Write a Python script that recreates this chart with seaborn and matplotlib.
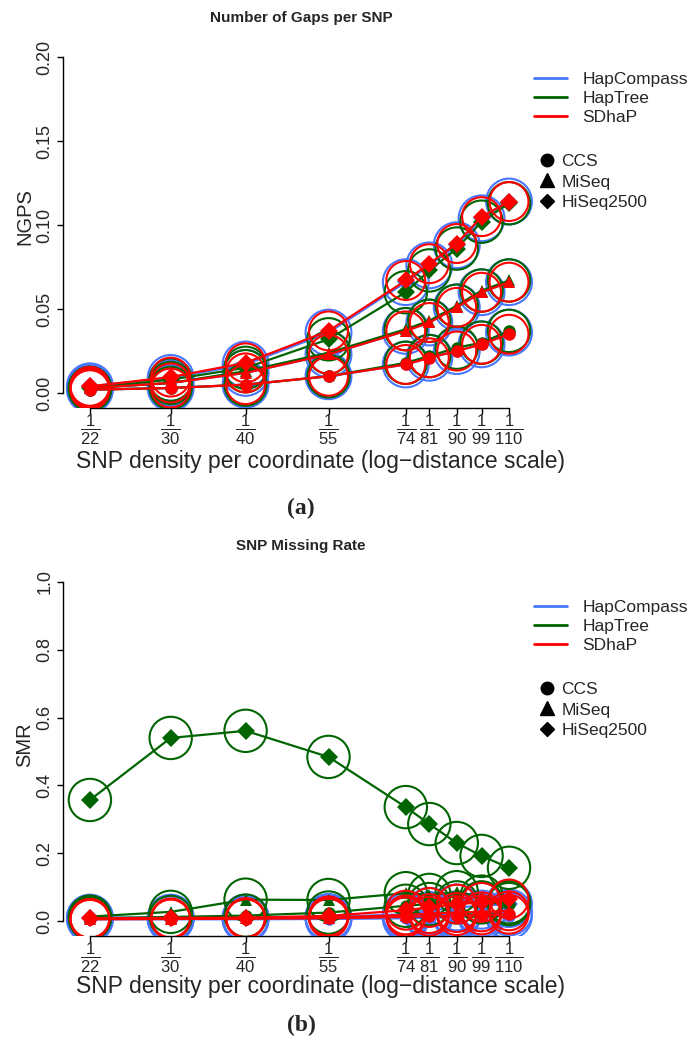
import numpy as np
import pandas as pd
import matplotlib
matplotlib.use("Agg")
import matplotlib.pyplot as plt
import seaborn as sns
from matplotlib.lines import Line2D

# =====================
# DATA
# =====================
density = [22, 30, 40, 55, 74, 81, 90, 99, 110]
tools = ["HapCompass", "HapTree", "SDhaP"]
platforms = ["CCS", "MiSeq", "HiSeq2500"]

# Number of gaps per SNP
ngps_hapcompass_ccs = [0.002, 0.003, 0.005, 0.010, 0.017, 0.021, 0.025, 0.029, 0.036]
ngps_hapcompass_miseq = [0.003, 0.006, 0.012, 0.023, 0.037, 0.042, 0.051, 0.060, 0.066]
ngps_hapcompass_hiseq = [0.004, 0.009, 0.017, 0.036, 0.066, 0.076, 0.088, 0.104, 0.114]
ngps_haptree_ccs = [0.002, 0.003, 0.005, 0.010, 0.018, 0.022, 0.027, 0.030, 0.037]
ngps_haptree_miseq = [0.003, 0.006, 0.013, 0.024, 0.038, 0.043, 0.052, 0.061, 0.067]
ngps_haptree_hiseq = [0.003, 0.008, 0.015, 0.032, 0.060, 0.073, 0.086, 0.102, 0.113]
ngps_sdhap_ccs = [0.002, 0.003, 0.005, 0.010, 0.017, 0.021, 0.025, 0.029, 0.035]
ngps_sdhap_miseq = [0.003, 0.006, 0.012, 0.023, 0.037, 0.042, 0.051, 0.060, 0.066]
ngps_sdhap_hiseq = [0.004, 0.0095, 0.018, 0.037, 0.067, 0.077, 0.089, 0.105, 0.114]

# SNP missing rate
smr_hapcompass_ccs = [0.005, 0.005, 0.005, 0.006, 0.008, 0.010, 0.012, 0.013, 0.015]
smr_hapcompass_miseq = [0.008, 0.008, 0.008, 0.010, 0.015, 0.018, 0.020, 0.022, 0.025]
smr_hapcompass_hiseq = [0.010, 0.010, 0.010, 0.012, 0.020, 0.030, 0.040, 0.045, 0.050]
smr_haptree_ccs = [0.008, 0.012, 0.016, 0.025, 0.045, 0.050, 0.055, 0.055, 0.050]
smr_haptree_miseq = [0.013, 0.027, 0.063, 0.062, 0.082, 0.077, 0.085, 0.072, 0.055]
smr_haptree_hiseq = [0.357, 0.540, 0.561, 0.484, 0.336, 0.286, 0.230, 0.192, 0.157]
smr_sdhap_ccs = [0.005, 0.006, 0.007, 0.008, 0.012, 0.014, 0.016, 0.018, 0.020]
smr_sdhap_miseq = [0.006, 0.007, 0.008, 0.010, 0.018, 0.022, 0.025, 0.027, 0.030]
smr_sdhap_hiseq = [0.008, 0.009, 0.010, 0.015, 0.032, 0.040, 0.050, 0.055, 0.065]

ngps = {
    ("HapCompass", "CCS"): ngps_hapcompass_ccs, ("HapCompass", "MiSeq"): ngps_hapcompass_miseq,
    ("HapCompass", "HiSeq2500"): ngps_hapcompass_hiseq,
    ("HapTree", "CCS"): ngps_haptree_ccs, ("HapTree", "MiSeq"): ngps_haptree_miseq,
    ("HapTree", "HiSeq2500"): ngps_haptree_hiseq,
    ("SDhaP", "CCS"): ngps_sdhap_ccs, ("SDhaP", "MiSeq"): ngps_sdhap_miseq,
    ("SDhaP", "HiSeq2500"): ngps_sdhap_hiseq,
}
smr = {
    ("HapCompass", "CCS"): smr_hapcompass_ccs, ("HapCompass", "MiSeq"): smr_hapcompass_miseq,
    ("HapCompass", "HiSeq2500"): smr_hapcompass_hiseq,
    ("HapTree", "CCS"): smr_haptree_ccs, ("HapTree", "MiSeq"): smr_haptree_miseq,
    ("HapTree", "HiSeq2500"): smr_haptree_hiseq,
    ("SDhaP", "CCS"): smr_sdhap_ccs, ("SDhaP", "MiSeq"): smr_sdhap_miseq,
    ("SDhaP", "HiSeq2500"): smr_sdhap_hiseq,
}

rows = []
for (tool, plat), vals in ngps.items():
    for d, v, w in zip(density, vals, smr[(tool, plat)]):
        rows.append({"tool": tool, "platform": plat, "density": d, "NGPS": v, "SMR": w})
df = pd.DataFrame(rows)

# =====================
# STYLE
# =====================
sns.set_style("white")
plt.rcParams["font.family"] = ["Liberation Sans", "DejaVu Sans"]
plt.rcParams["mathtext.fontset"] = "custom"
plt.rcParams["mathtext.rm"] = "Liberation Sans"
plt.rcParams["mathtext.it"] = "Liberation Sans"

colors = {"HapCompass": "#4876FF", "HapTree": "#006400", "SDhaP": "#FF0000"}
markers = {"CCS": "o", "MiSeq": "^", "HiSeq2500": "D"}
ring_size = {"HapCompass": 33, "HapTree": 30.5, "SDhaP": 28}  # diameter in points

W, H = 689, 1052
fig = plt.figure(figsize=(W / 100, H / 100), dpi=100)


def px_axes(left, top, right, bottom):
    return fig.add_axes([left / W, 1 - bottom / H, (right - left) / W, (bottom - top) / H])


def draw_panel(ax, col, ylim, yticks, yfmt, ylabel, ylab_y, leg_top):
    for z, tool in enumerate(tools):
        sub = df[df["tool"] == tool]
        sns.lineplot(data=sub, x="density", y=col, style="platform", markers=markers,
                     dashes=False, color=colors[tool], linewidth=1.6, markersize=9,
                     markeredgewidth=0, errorbar=None, legend=False, ax=ax, zorder=3 + z)
        ax.scatter(sub["density"], sub[col], s=ring_size[tool] ** 2, facecolors="none",
                   edgecolors=colors[tool], linewidths=1.5, zorder=3 + z)
    ax.set_xscale("log")
    ax.set_xlim(19.84, 123.9)
    ax.set_ylim(*ylim)
    ax.set_xticks(density)
    # "1 over d" fraction labels: numerator line, then the denominator with a bar over it
    ax.set_xticklabels(["1\n" + r"$\overline{\mathregular{%d}}$" % d for d in density],
                       fontsize=12, linespacing=0.88)
    ax.minorticks_off()
    ax.set_yticks(yticks)
    ax.set_yticklabels([yfmt % t for t in yticks], fontsize=13, rotation=90, va="center")
    ax.set_xlabel("")
    ax.set_ylabel("")
    for s in ["top", "right"]:
        ax.spines[s].set_visible(False)
    ax.spines["left"].set_bounds(yticks[0], yticks[-1])
    ax.spines["bottom"].set_bounds(density[0], density[-1])
    for s in ["left", "bottom"]:
        ax.spines[s].set_linewidth(1.0)
        ax.spines[s].set_color("black")
    ax.tick_params(axis="both", which="major", direction="out", length=4, width=1.0,
                   color="black", bottom=True, left=True)
    ax.tick_params(axis="y", pad=3)
    ax.tick_params(axis="x", pad=0.5)
    ax.set_facecolor("white")
    fig.text(25 / W, 1 - ylab_y / H, ylabel, rotation=90, fontsize=14.5, ha="center", va="center")

    tool_handles = [Line2D([], [], color=colors[t], linewidth=2) for t in tools]
    leg1 = ax.legend(tool_handles, tools, loc="upper left", frameon=False, fontsize=12.5,
                     bbox_to_anchor=(534 / W, 1 - leg_top / H),
                     bbox_transform=fig.transFigure, handlelength=1.9, handletextpad=0.9,
                     labelspacing=0.22, borderpad=0, borderaxespad=0)
    ax.add_artist(leg1)
    plat_handles = [Line2D([], [], color="black", marker=markers[p], linestyle="",
                           markersize=ms) for p, ms in zip(platforms, [9, 10, 7])]
    ax.legend(plat_handles, platforms, loc="upper left", frameon=False, fontsize=12.5,
              bbox_to_anchor=(538 / W, 1 - (leg_top + 82) / H),
              bbox_transform=fig.transFigure, handlelength=1.0, handletextpad=0.35,
              labelspacing=0.3, borderpad=0, borderaxespad=0)


# =====================
# PANEL (a) – NGPS
# =====================
ax1 = px_axes(63, 50, 540, 408)
draw_panel(ax1, "NGPS", (-0.0089, 0.2042), [0.00, 0.05, 0.10, 0.15, 0.20], "%.2f",
           "NGPS", 217, 72)
fig.text(301 / W, 1 - 18 / H, "Number of Gaps per SNP", fontsize=11, fontweight="bold",
         ha="center", va="center")
fig.text(320 / W, 1 - 462 / H, "SNP density per coordinate (log\u2212distance scale)",
         fontsize=16.5, ha="center", va="center")
fig.text(301 / W, 1 - 508 / H, "(a)", fontsize=17, fontweight="bold",
         family="Liberation Serif", ha="center", va="center")

# =====================
# PANEL (b) – SMR
# =====================
ax2 = px_axes(63, 575, 540, 936)
draw_panel(ax2, "SMR", (-0.0442, 1.0206), [0.0, 0.2, 0.4, 0.6, 0.8, 1.0], "%.1f",
           "SMR", 745, 600)
fig.text(301 / W, 1 - 546 / H, "SNP Missing Rate", fontsize=11, fontweight="bold",
         ha="center", va="center")
fig.text(320 / W, 1 - 987 / H, "SNP density per coordinate (log\u2212distance scale)",
         fontsize=16.5, ha="center", va="center")
fig.text(301 / W, 1 - 1025 / H, "(b)", fontsize=17, fontweight="bold",
         family="Liberation Serif", ha="center", va="center")

fig.savefig("out.png", dpi=100, facecolor="white")
